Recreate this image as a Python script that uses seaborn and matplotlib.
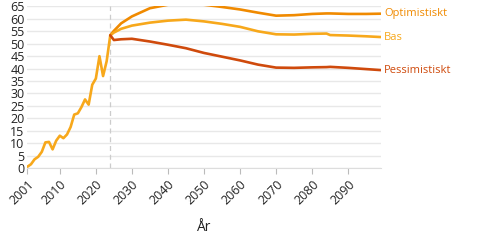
import pandas as pd
import matplotlib
matplotlib.use('Agg')
import matplotlib.pyplot as plt
import matplotlib.transforms as mtransforms
import seaborn as sns

sns.set_theme(style='white')
plt.rcParams['font.family'] = ['Open Sans', 'DejaVu Sans']

# historiska värden
hist_years = list(range(2001, 2025))
hist_vals = [0.5, 1.5, 3.5, 4.5, 6.5, 10.3, 10.5, 7.5, 11, 13, 12, 13.5,
             16.5, 21.5, 22, 24.5, 27.6, 25.5, 33.5, 36, 45, 37, 43, 53.4]

# prognoser
proj_years = [2024, 2025, 2027, 2030, 2035, 2040, 2045, 2050, 2055, 2060,
              2065, 2070, 2075, 2080, 2084, 2085, 2090, 2095, 2099]
opt_vals = [53.4, 55.2, 58.2, 61.0, 64.3, 65.7, 66.1, 65.7, 64.8, 63.8,
            62.5, 61.3, 61.5, 62.0, 62.2, 62.2, 62.0, 62.0, 62.1]
bas_vals = [53.4, 54.5, 56.0, 57.3, 58.5, 59.3, 59.7, 59.0, 58.0, 56.8,
            55.0, 53.8, 53.7, 54.0, 54.1, 53.5, 53.3, 53.0, 52.7]
pes_vals = [53.4, 51.5, 51.8, 52.0, 50.9, 49.6, 48.2, 46.3, 44.8, 43.3,
            41.6, 40.4, 40.3, 40.5, 40.6, 40.7, 40.3, 39.8, 39.4]

xticks = [2001, 2010, 2020, 2030, 2040, 2050, 2060, 2070, 2080, 2090]
yticks = list(range(0, 70, 5))

colors = {'Optimistiskt': '#f08a00', 'Bas': '#f7a81b', 'Pessimistiskt': '#cf4a0c'}

df_hist = pd.DataFrame({'År': hist_years, 'värde': hist_vals})
df_proj = pd.concat([
    pd.DataFrame({'År': proj_years, 'värde': opt_vals, 'scenario': 'Optimistiskt'}),
    pd.DataFrame({'År': proj_years, 'värde': bas_vals, 'scenario': 'Bas'}),
    pd.DataFrame({'År': proj_years, 'värde': pes_vals, 'scenario': 'Pessimistiskt'}),
])

fig = plt.figure(figsize=(4.8, 2.4), dpi=100)
ax = fig.add_axes([0.057, 0.30, 0.736, 0.673])

for y in yticks:
    ax.axhline(y, color='#e8e8e8', lw=1, zorder=0)
ax.axvline(2024, color='#cccccc', lw=0.9, ls=(0, (4, 3)), zorder=1)

sns.lineplot(data=df_hist, x='År', y='värde', color=colors['Bas'], lw=1.9, ax=ax)
sns.lineplot(data=df_proj, x='År', y='värde', hue='scenario', palette=colors,
             lw=1.9, ax=ax, legend=False)

for name, vals in [('Optimistiskt', opt_vals), ('Bas', bas_vals), ('Pessimistiskt', pes_vals)]:
    ax.text(proj_years[-1] + 1, vals[-1], name, color=colors[name],
            fontsize=8, va='center', ha='left')

ax.set_xlim(2001, 2099)
ax.set_ylim(0, 65)
ax.set_yticks(yticks)
ax.set_xticks(xticks)
ax.set_xticklabels([str(t) for t in xticks], rotation=45, ha='right',
                   rotation_mode='anchor')
# flytta etiketterna lite åt höger som i originalet
offset = mtransforms.ScaledTranslation(6 / 100, 0, fig.dpi_scale_trans)
for lbl in ax.get_xticklabels():
    lbl.set_transform(lbl.get_transform() + offset)
ax.tick_params(axis='y', length=0, pad=2, labelsize=9, labelcolor='#222222')
ax.tick_params(axis='x', length=4, color='#bbbbbb', width=0.8, pad=3,
               labelsize=9, labelcolor='#222222', bottom=True)
ax.set_ylabel('')
ax.set_xlabel('År', fontsize=10, color='#222222', labelpad=9)
for s in ['top', 'right', 'left']:
    ax.spines[s].set_visible(False)
ax.spines['bottom'].set_color('#dddddd')
ax.spines['bottom'].set_linewidth(0.8)

fig.savefig('out.png', dpi=100)
